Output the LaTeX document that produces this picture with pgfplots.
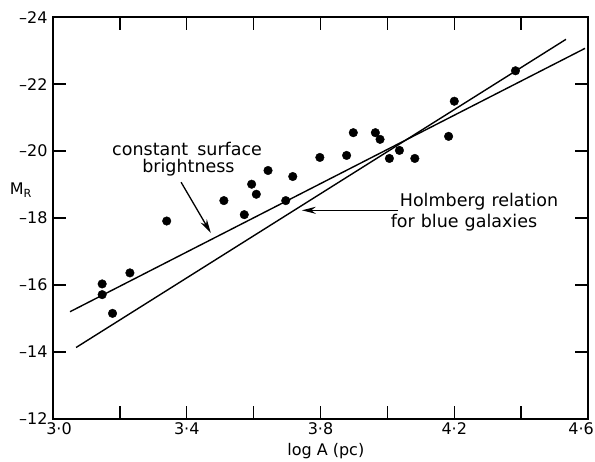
\documentclass[border=0pt]{standalone}
\usepackage{fontspec}
\setmainfont{DejaVu Sans}
\usepackage{pgfplots}
\pgfplotsset{compat=1.18}
\usetikzlibrary{arrows.meta}

% galaxies: log A (pc) vs M_R
\pgfplotstableread{
x      y
3.147  -16.03
3.147  -15.71
3.178  -15.15
3.230  -16.36
3.340  -17.91
3.511  -18.52
3.572  -18.10
3.594  -19.01
3.608  -18.71
3.643  -19.42
3.696  -18.52
3.717  -19.24
3.798  -19.81
3.878  -19.87
3.898  -20.55
3.964  -20.55
3.978  -20.35
4.006  -19.78
4.036  -20.02
4.082  -19.78
4.183  -20.44
4.200  -21.49
4.383  -22.40
}\galaxies

\begin{document}
\begin{tikzpicture}
\begin{axis}[
  scale only axis,
  width=535pt, height=401.5pt,
  xmin=3.0, xmax=4.6,
  ymin=-24, ymax=-12,
  y dir=reverse,
  clip=false,
  axis line style={line width=1.6pt},
  xtick={3.0,3.2,3.4,3.6,3.8,4.0,4.2,4.4,4.6},
  xticklabels={\makebox[0pt]{\kern12pt 3·0},,3·4,,3·8,,4·2,,\makebox[0pt]{\kern-14pt 4·6}},
  ytick={-24,-22,-20,-18,-16,-14,-12},
  yticklabels={\textendash24,\textendash22,\textendash20,\textendash18,\textendash16,\textendash14,\textendash12},
  tick align=inside,
  major tick length=13pt,
  every tick/.style={line width=1.4pt, black},
  tick label style={font=\fontsize{16}{19}\selectfont},
  xticklabel style={inner sep=1pt, yshift=-2.5pt},
  yticklabel style={xshift=-2pt},
]
% frame of the page
\path (axis cs:2.8415,-24.515) rectangle (axis cs:4.6208,-10.713);

\addplot[line width=1.4pt] coordinates {(3.051,-15.20) (4.591,-23.07)};
\addplot[line width=1.4pt] coordinates {(3.069,-14.13) (4.534,-23.34)};
\addplot[only marks, mark=*, mark size=4.3pt, black] table[x=x, y=y] {\galaxies};

\draw[line width=1.3pt, -{Stealth[length=14pt, width=7pt]}]
  (axis cs:3.383,-19.07) -- (axis cs:3.472,-17.55);
\draw[line width=1.3pt, -{Stealth[length=14pt, width=7pt]}]
  (axis cs:4.033,-18.23) -- (axis cs:3.744,-18.23);

\node[font=\fontsize{17.5}{20}\selectfont] at (axis cs:3.401,-20.07) {constant\hspace{9pt}surface};
\node[font=\fontsize{17.5}{20}\selectfont] at (axis cs:3.405,-19.49) {brightness};
\node[font=\fontsize{17.5}{20}\selectfont] at (axis cs:4.274,-18.48) {Holmberg\hspace{6pt}relation};
\node[font=\fontsize{17.5}{20}\selectfont] at (axis cs:4.229,-17.85) {for\hspace{6pt}blue\hspace{6pt}galaxies};

\node[font=\fontsize{16}{19}\selectfont] at (axis cs:2.904,-18.83) {M\textsubscript{R}};
\node[font=\fontsize{16}{19}\selectfont, inner sep=1pt] at (axis cs:3.816,-11.03) {log\hspace{5pt}A\hspace{5pt}(pc)};
\end{axis}
\end{tikzpicture}
\end{document}
